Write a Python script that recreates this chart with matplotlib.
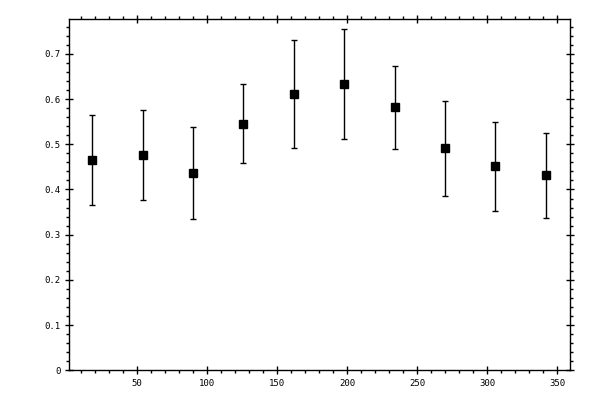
import matplotlib

matplotlib.use("Agg")
import matplotlib.pyplot as plt
from matplotlib.ticker import MultipleLocator, FuncFormatter

# bin centres (deg) and measured values with symmetric errors
angle = [18, 54, 90, 126, 162, 198, 234, 270, 306, 342]
value = [0.465, 0.476, 0.436, 0.546, 0.611, 0.633, 0.582, 0.491, 0.451, 0.431]
error = [0.099, 0.100, 0.102, 0.088, 0.119, 0.122, 0.092, 0.105, 0.098, 0.095]

fig = plt.figure(figsize=(6, 4), dpi=100)
ax = fig.add_axes([0.1155, 0.0743, 0.835, 0.8775])

ax.errorbar(angle, value, yerr=error, fmt="s", color="black",
            markersize=5.2, elinewidth=1.0, capsize=2.5, capthick=1.0)

ax.set_xlim(1.6, 359.5)
ax.set_ylim(0, 0.7766)

ax.xaxis.set_major_locator(MultipleLocator(50))
ax.xaxis.set_minor_locator(MultipleLocator(10))
ax.yaxis.set_major_locator(MultipleLocator(0.1))
ax.yaxis.set_minor_locator(MultipleLocator(0.02))
ax.yaxis.set_major_formatter(FuncFormatter(lambda v, _: "0" if abs(v) < 1e-9 else f"{v:.1f}"))

for side in ax.spines.values():
    side.set_linewidth(1.0)

ax.tick_params(which="major", direction="inout", length=6, width=1.0,
               top=True, right=True, labelsize=6.5, pad=3)
ax.tick_params(which="minor", direction="out", length=2.5, width=1.0,
               top=True, right=True)
for lab in ax.get_xticklabels() + ax.get_yticklabels():
    lab.set_family("DejaVu Sans Mono")

fig.savefig("out.png", dpi=100)
